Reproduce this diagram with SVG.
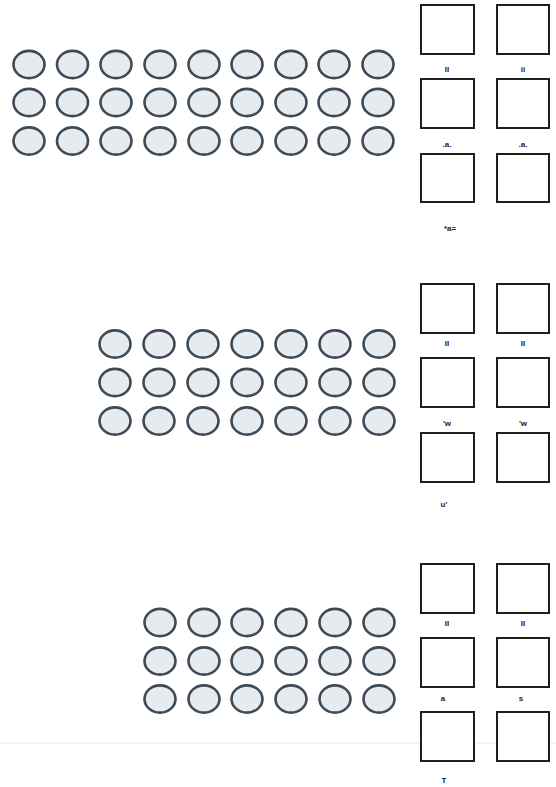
<svg xmlns="http://www.w3.org/2000/svg" width="556" height="787" viewBox="0 0 556 787">
<defs>
<style>
.c{fill:#e6ebf0;stroke:#3f4a56;stroke-width:2.6}
.b{fill:#ffffff;stroke:#1e1e1e;stroke-width:2}
.t{font-family:"Liberation Sans",Arial,sans-serif;font-size:8px;font-weight:bold;fill:#222;text-anchor:middle}
</style>
<ellipse id="e" rx="15.5" ry="13.6" class="c"/>
</defs>
<rect width="556" height="787" fill="#ffffff"/>
<line x1="0" y1="743" x2="556" y2="743" stroke="#f0e4e8" stroke-width="1"/>
<g id="panel1-circles">
<g id="p1r1"><use href="#e" x="29" y="64.5"/><use href="#e" x="72.5" y="64.5"/><use href="#e" x="116" y="64.5"/><use href="#e" x="160" y="64.5"/><use href="#e" x="204" y="64.5"/><use href="#e" x="247" y="64.5"/><use href="#e" x="291" y="64.5"/><use href="#e" x="334" y="64.5"/><use href="#e" x="378" y="64.5"/></g>
<g id="p1r2"><use href="#e" x="29" y="102.5"/><use href="#e" x="72.5" y="102.5"/><use href="#e" x="116" y="102.5"/><use href="#e" x="160" y="102.5"/><use href="#e" x="204" y="102.5"/><use href="#e" x="247" y="102.5"/><use href="#e" x="291" y="102.5"/><use href="#e" x="334" y="102.5"/><use href="#e" x="378" y="102.5"/></g>
<g id="p1r3"><use href="#e" x="29" y="141"/><use href="#e" x="72.5" y="141"/><use href="#e" x="116" y="141"/><use href="#e" x="160" y="141"/><use href="#e" x="204" y="141"/><use href="#e" x="247" y="141"/><use href="#e" x="291" y="141"/><use href="#e" x="334" y="141"/><use href="#e" x="378" y="141"/></g>
</g>
<g id="panel1-boxes">
<rect class="b" x="421" y="5" width="53" height="49"/><rect class="b" x="497" y="5" width="52" height="49"/>
<text class="t" x="447" y="72">II</text><text class="t" x="523" y="72">ii</text>
<rect class="b" x="421" y="79" width="53" height="49"/><rect class="b" x="497" y="79" width="52" height="49"/>
<text class="t" x="447" y="147">.a.</text><text class="t" x="523" y="147">.a.</text>
<rect class="b" x="421" y="154" width="53" height="48"/><rect class="b" x="497" y="154" width="52" height="48"/>
<text class="t" x="450" y="231">*a=</text>
</g>
<g id="panel2-circles">
<g id="p2r1"><use href="#e" x="115" y="344"/><use href="#e" x="159" y="344"/><use href="#e" x="203" y="344"/><use href="#e" x="247" y="344"/><use href="#e" x="291" y="344"/><use href="#e" x="335" y="344"/><use href="#e" x="379" y="344"/></g>
<g id="p2r2"><use href="#e" x="115" y="382.5"/><use href="#e" x="159" y="382.5"/><use href="#e" x="203" y="382.5"/><use href="#e" x="247" y="382.5"/><use href="#e" x="291" y="382.5"/><use href="#e" x="335" y="382.5"/><use href="#e" x="379" y="382.5"/></g>
<g id="p2r3"><use href="#e" x="115" y="421"/><use href="#e" x="159" y="421"/><use href="#e" x="203" y="421"/><use href="#e" x="247" y="421"/><use href="#e" x="291" y="421"/><use href="#e" x="335" y="421"/><use href="#e" x="379" y="421"/></g>
</g>
<g id="panel2-boxes">
<rect class="b" x="421" y="284" width="53" height="49"/><rect class="b" x="497" y="284" width="52" height="49"/>
<text class="t" x="447" y="346">II</text><text class="t" x="523" y="346">II</text>
<rect class="b" x="421" y="358" width="53" height="49"/><rect class="b" x="497" y="358" width="52" height="49"/>
<text class="t" x="447" y="426">'w</text><text class="t" x="523" y="426">'w</text>
<rect class="b" x="421" y="433" width="53" height="49"/><rect class="b" x="497" y="433" width="52" height="49"/>
<text class="t" x="444" y="507">u'</text>
</g>
<g id="panel3-circles">
<g id="p3r1"><use href="#e" x="160" y="622.5"/><use href="#e" x="204" y="622.5"/><use href="#e" x="247" y="622.5"/><use href="#e" x="291" y="622.5"/><use href="#e" x="335" y="622.5"/><use href="#e" x="379" y="622.5"/></g>
<g id="p3r2"><use href="#e" x="160" y="661"/><use href="#e" x="204" y="661"/><use href="#e" x="247" y="661"/><use href="#e" x="291" y="661"/><use href="#e" x="335" y="661"/><use href="#e" x="379" y="661"/></g>
<g id="p3r3"><use href="#e" x="160" y="699"/><use href="#e" x="204" y="699"/><use href="#e" x="247" y="699"/><use href="#e" x="291" y="699"/><use href="#e" x="335" y="699"/><use href="#e" x="379" y="699"/></g>
</g>
<g id="panel3-boxes">
<rect class="b" x="421" y="564" width="53" height="49"/><rect class="b" x="497" y="564" width="52" height="49"/>
<text class="t" x="447" y="626">II</text><text class="t" x="523" y="626">II</text>
<rect class="b" x="421" y="638" width="53" height="49"/><rect class="b" x="497" y="638" width="52" height="49"/>
<text class="t" x="443" y="701">a</text><text class="t" x="521" y="701">s</text>
<rect class="b" x="421" y="712" width="53" height="49"/><rect class="b" x="497" y="712" width="52" height="49"/>
<text class="t" x="444" y="783">T</text>
</g>
<g id="connectors"/>
</svg>
